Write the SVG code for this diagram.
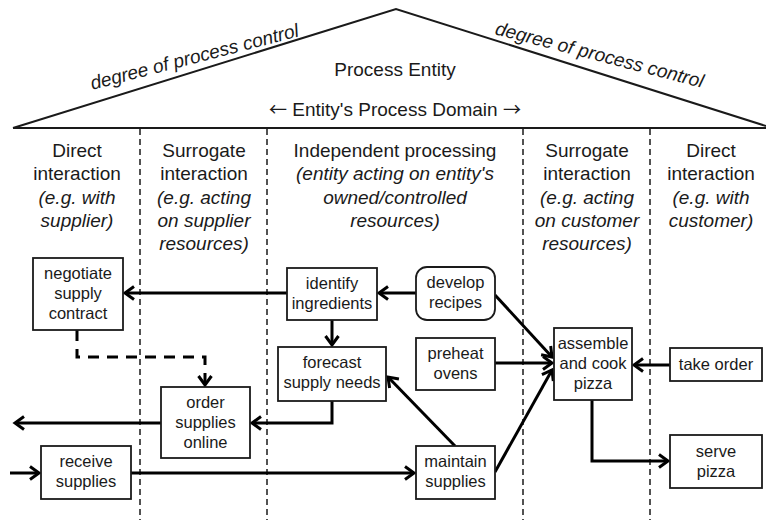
<svg xmlns="http://www.w3.org/2000/svg" width="766" height="520" viewBox="0 0 766 520">
<style>
text{font-family:"Liberation Sans",Arial,sans-serif;fill:#1a1a1a;text-anchor:middle}
.h{font-size:19px}
.i{font-style:italic}
.b{font-size:16.5px}
.ar{font-family:"Noto Sans CJK JP","DejaVu Sans",sans-serif;font-size:18px}
.box{fill:#fff;stroke:#1a1a1a;stroke-width:1.8}
.col{stroke:#1a1a1a;stroke-width:1.5;stroke-dasharray:6 4;fill:none}
.c{fill:none;stroke:#000;stroke-width:3;marker-end:url(#a)}
</style>
<defs>
<marker id="a" markerUnits="userSpaceOnUse" markerWidth="16" markerHeight="18" viewBox="-13 -9 16 18" refX="0" refY="0" orient="auto">
<path d="M-9,-6.5 L0,0 L-9,6.5" fill="none" stroke="#000" stroke-width="3"/>
</marker>
</defs>
<g id="roof">
<polyline points="13,128 396,9 766,126" fill="none" stroke="#1a1a1a" stroke-width="2"/>
<line x1="13" y1="128" x2="766" y2="128" stroke="#1a1a1a" stroke-width="2"/>
<text class="h i" transform="translate(196,63) rotate(-14.5)">degree of process control</text>
<text class="h i" transform="translate(598,61) rotate(14.5)">degree of process control</text>
<text class="h" x="395" y="76">Process Entity</text>
<text class="h" x="395" y="116"><tspan class="ar">←</tspan> Entity's Process Domain <tspan class="ar">→</tspan></text>
</g>
<g id="columns">
<line class="col" x1="140" y1="129" x2="140" y2="520"/>
<line class="col" x1="267" y1="129" x2="267" y2="520"/>
<line class="col" x1="523" y1="129" x2="523" y2="520"/>
<line class="col" x1="650" y1="129" x2="650" y2="520"/>
</g>
<g id="headers">
<text class="h" x="77" y="157">Direct</text>
<text class="h" x="77" y="180">interaction</text>
<text class="h i" x="77" y="204">(e.g. with</text>
<text class="h i" x="77" y="227">supplier)</text>
<text class="h" x="204" y="157">Surrogate</text>
<text class="h" x="204" y="180">interaction</text>
<text class="h i" x="204" y="204">(e.g. acting</text>
<text class="h i" x="204" y="227">on supplier</text>
<text class="h i" x="204" y="250">resources)</text>
<text class="h" x="395" y="157">Independent processing</text>
<text class="h i" x="395" y="180">(entity acting on entity's</text>
<text class="h i" x="395" y="204">owned/controlled</text>
<text class="h i" x="395" y="227">resources)</text>
<text class="h" x="587" y="157">Surrogate</text>
<text class="h" x="587" y="180">interaction</text>
<text class="h i" x="587" y="204">(e.g. acting</text>
<text class="h i" x="587" y="227">on customer</text>
<text class="h i" x="587" y="250">resources)</text>
<text class="h" x="711" y="157">Direct</text>
<text class="h" x="711" y="180">interaction</text>
<text class="h i" x="711" y="204">(e.g. with</text>
<text class="h i" x="711" y="227">customer)</text>
</g>
<g id="connectors">
<line class="c" x1="287" y1="293" x2="125" y2="293"/>
<line class="c" x1="416" y1="293" x2="379" y2="293"/>
<line class="c" x1="332" y1="320" x2="332" y2="345"/>
<polyline class="c" points="332,401 332,423 252,423"/>
<line class="c" x1="161" y1="423" x2="15" y2="423"/>
<polyline class="c" points="77,330 77,357 205,357 205,385" stroke-dasharray="11 8"/>
<line class="c" x1="10" y1="473" x2="39" y2="473"/>
<line class="c" x1="131" y1="473" x2="414" y2="473"/>
<line class="c" x1="455" y1="446" x2="388" y2="377"/>
<line class="c" x1="495" y1="472" x2="552" y2="370"/>
<line class="c" x1="495" y1="295" x2="552" y2="357"/>
<line class="c" x1="495" y1="363" x2="552" y2="363"/>
<line class="c" x1="670" y1="365" x2="634" y2="365"/>
<polyline class="c" points="592,400 592,461 668,461"/>
</g>
<g id="negotiate">
<rect class="box" x="33" y="258" width="90" height="72"/>
<text class="b" x="78" y="279">negotiate</text>
<text class="b" x="78" y="299">supply</text>
<text class="b" x="78" y="319">contract</text>
</g>
<g id="identify">
<rect class="box" x="287" y="268" width="90" height="52"/>
<text class="b" x="332" y="289">identify</text>
<text class="b" x="332" y="309">ingredients</text>
</g>
<g id="develop">
<rect class="box" x="416" y="267" width="79" height="53" rx="11"/>
<text class="b" x="455.5" y="288">develop</text>
<text class="b" x="455.5" y="308">recipes</text>
</g>
<g id="forecast">
<rect class="box" x="278" y="347" width="108" height="54"/>
<text class="b" x="332" y="368">forecast</text>
<text class="b" x="332" y="388">supply needs</text>
</g>
<g id="preheat">
<rect class="box" x="416" y="338" width="79" height="52"/>
<text class="b" x="455.5" y="359">preheat</text>
<text class="b" x="455.5" y="379">ovens</text>
</g>
<g id="assemble">
<rect class="box" x="554" y="328" width="78" height="72"/>
<text class="b" x="593" y="349">assemble</text>
<text class="b" x="593" y="369">and cook</text>
<text class="b" x="593" y="389">pizza</text>
</g>
<g id="take-order">
<rect class="box" x="670" y="348" width="92" height="33"/>
<text class="b" x="716" y="370">take order</text>
</g>
<g id="order-online">
<rect class="box" x="161" y="387" width="89" height="71"/>
<text class="b" x="205.5" y="408">order</text>
<text class="b" x="205.5" y="428">supplies</text>
<text class="b" x="205.5" y="448">online</text>
</g>
<g id="receive">
<rect class="box" x="41" y="446" width="90" height="53"/>
<text class="b" x="86" y="467">receive</text>
<text class="b" x="86" y="487">supplies</text>
</g>
<g id="maintain">
<rect class="box" x="416" y="446" width="79" height="53"/>
<text class="b" x="455.5" y="467">maintain</text>
<text class="b" x="455.5" y="487">supplies</text>
</g>
<g id="serve">
<rect class="box" x="670" y="435" width="92" height="53"/>
<text class="b" x="716" y="457">serve</text>
<text class="b" x="716" y="477">pizza</text>
</g>
</svg>
